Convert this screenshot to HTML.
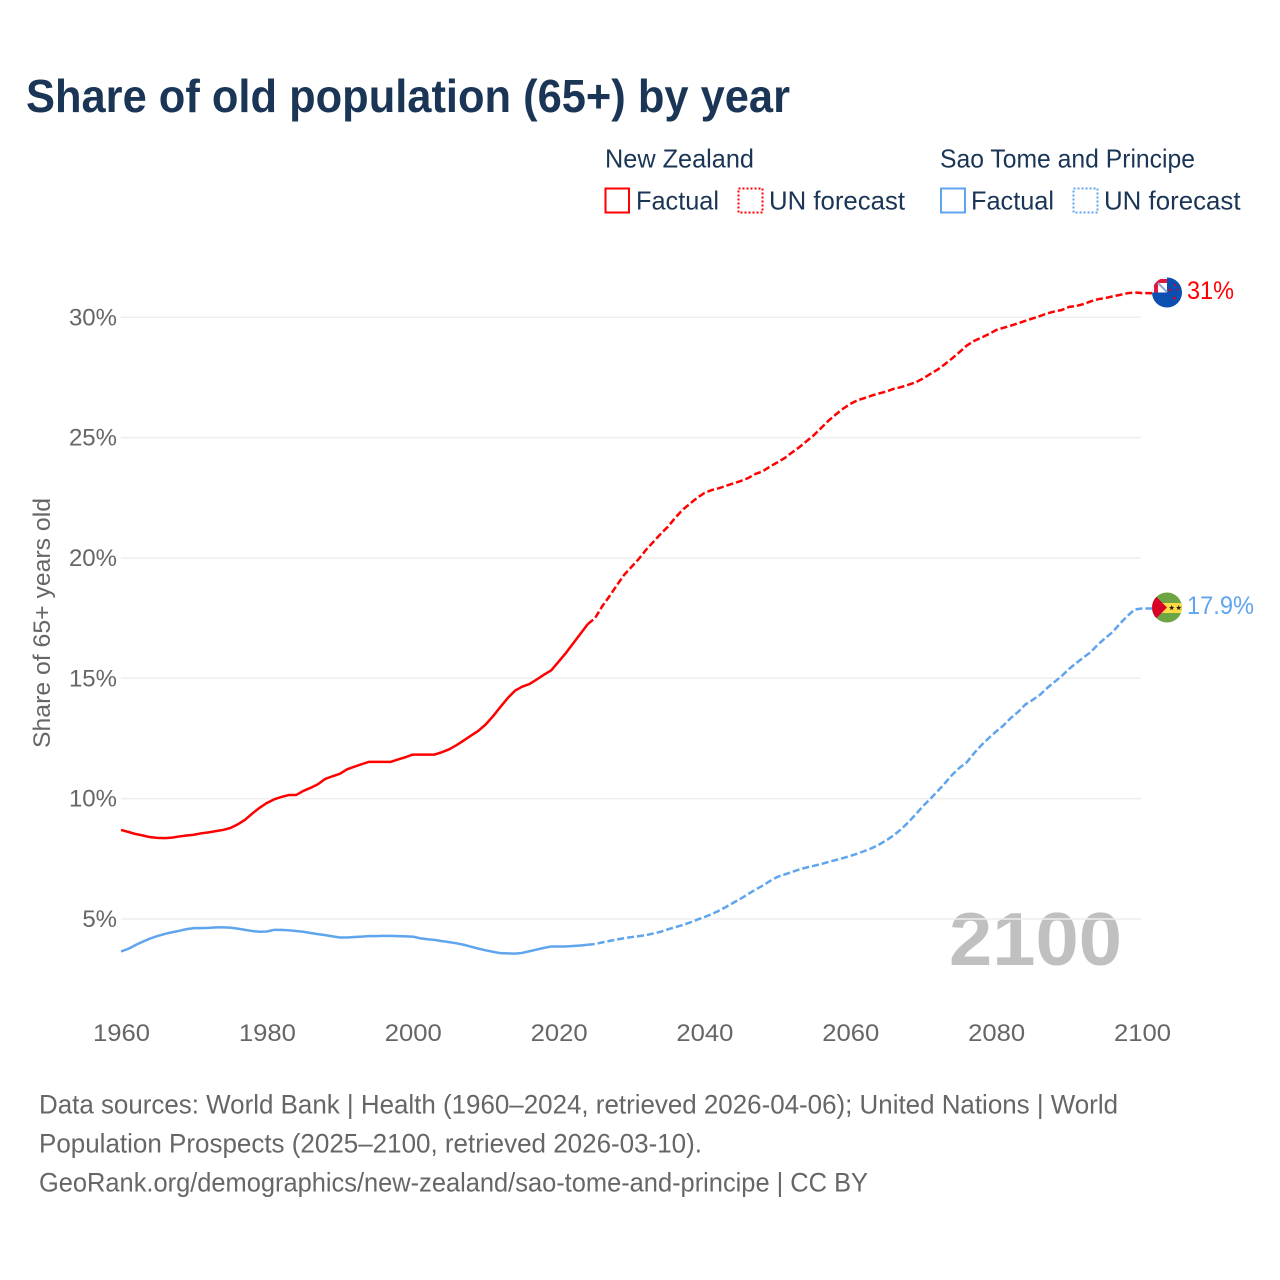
<!DOCTYPE html>
<html lang="en">
<head>
<meta charset="utf-8">
<title>Share of old population (65+) by year</title>
<style>
html,body{margin:0;padding:0;background:#fff;width:1280px;height:1280px;overflow:hidden}
svg{display:block}
text{font-family:"Liberation Sans",sans-serif}
</style>
</head>
<body>
<svg id="chart" xmlns="http://www.w3.org/2000/svg" width="1280" height="1280" viewBox="0 0 1280 1280">
  <text x="26" y="112" font-size="46" font-weight="700" fill="#1a3555" textLength="764" lengthAdjust="spacingAndGlyphs">Share of old population (65+) by year</text>

  <g font-size="26" fill="#1a3555">
    <text x="605" y="167.5" textLength="149" lengthAdjust="spacingAndGlyphs">New Zealand</text>
    <rect x="605.5" y="188.5" width="23.5" height="24" fill="none" stroke="#ff0000" stroke-width="2"/>
    <text x="636" y="209.5" textLength="83" lengthAdjust="spacingAndGlyphs">Factual</text>
    <rect x="738.5" y="188.5" width="24" height="24" fill="none" stroke="#ff0000" stroke-width="2" stroke-dasharray="2 2"/>
    <text x="769" y="209.5" textLength="136" lengthAdjust="spacingAndGlyphs">UN forecast</text>

    <text x="940" y="167.5" textLength="255" lengthAdjust="spacingAndGlyphs">Sao Tome and Principe</text>
    <rect x="941" y="188.5" width="24" height="24" fill="none" stroke="#5fa5ee" stroke-width="2"/>
    <text x="971" y="209.5" textLength="83" lengthAdjust="spacingAndGlyphs">Factual</text>
    <rect x="1073.5" y="188.5" width="24" height="24" fill="none" stroke="#5fa5ee" stroke-width="2" stroke-dasharray="2 2"/>
    <text x="1104" y="209.5" textLength="136.5" lengthAdjust="spacingAndGlyphs">UN forecast</text>
  </g>

  <text transform="translate(50,623) rotate(-90)" text-anchor="middle" font-size="24" fill="#666666" textLength="250" lengthAdjust="spacingAndGlyphs">Share of 65+ years old</text>

  <text x="949" y="965" font-size="75" font-weight="700" fill="#c0c0c0" textLength="173" lengthAdjust="spacingAndGlyphs">2100</text>

  <g id="grid"></g>
  <g id="yticks"></g>
  <g id="xticks"></g>
  <g id="series"></g>

  <defs>
    <clipPath id="nz-clip"><circle cx="1167" cy="292.5" r="15"/></clipPath>
    <clipPath id="st-clip"><circle cx="1167" cy="607.5" r="15"/></clipPath>
  </defs>

  <g id="flag-nz" clip-path="url(#nz-clip)">
    <rect x="1152" y="277" width="30" height="31" fill="#0b4fb0"/>
    <rect x="1152" y="277" width="15" height="15.5" fill="#ffffff"/>
    <path d="M1154 292.5 V279 H1167 V283 H1158 V292.5 Z" fill="#e0163c"/>
    <path d="M1158 283 L1167 292" stroke="#8fa6d6" stroke-width="2"/>
    <circle cx="1170" cy="290" r="1.3" fill="#d80027"/>
    <circle cx="1175" cy="285" r="1.1" fill="#d80027"/>
    <circle cx="1178" cy="289.5" r="1" fill="#d80027"/>
    <circle cx="1174.5" cy="298" r="1.4" fill="#d80027"/>
  </g>

  <g id="flag-st" clip-path="url(#st-clip)">
    <rect x="1152" y="592" width="30" height="31" fill="#6da544"/>
    <rect x="1152" y="603" width="30" height="10" fill="#ffda44"/>
    <path d="M1152 592.5 L1167 607.5 L1152 622.5 Z" fill="#d80027"/>
    <path d="M1171.7 605 l0.7 1.9 2 0.1 -1.6 1.2 0.6 1.9 -1.7 -1.1 -1.7 1.1 0.6 -1.9 -1.6 -1.2 2 -0.1 Z" fill="#222"/>
    <path d="M1178.7 605 l0.7 1.9 2 0.1 -1.6 1.2 0.6 1.9 -1.7 -1.1 -1.7 1.1 0.6 -1.9 -1.6 -1.2 2 -0.1 Z" fill="#222"/>
  </g>

  <text x="1187" y="299" font-size="25" fill="#ff0000" textLength="47" lengthAdjust="spacingAndGlyphs">31%</text>
  <text x="1187" y="614" font-size="25" fill="#5fa5ee" textLength="67" lengthAdjust="spacingAndGlyphs">17.9%</text>

  <g font-size="27" fill="#666666">
    <text x="39" y="1113.5" textLength="1079" lengthAdjust="spacingAndGlyphs">Data sources: World Bank | Health (1960–2024, retrieved 2026-04-06); United Nations | World</text>
    <text x="39" y="1152.5" textLength="663" lengthAdjust="spacingAndGlyphs">Population Prospects (2025–2100, retrieved 2026-03-10).</text>
    <text x="39" y="1191.5" textLength="829" lengthAdjust="spacingAndGlyphs">GeoRank.org/demographics/new-zealand/sao-tome-and-principe | CC BY</text>
  </g>
</svg>

<script>
const xTickYears = [1960, 1980, 2000, 2020, 2040, 2060, 2080, 2100];
const yTickValues = [5, 10, 15, 20, 25, 30];
const firstYear = 1960;
const lastFactualYear = 2024;

const nzFactual = [8.7,8.62,8.53,8.47,8.4,8.37,8.36,8.38,8.43,8.47,
  8.5,8.56,8.6,8.65,8.7,8.78,8.93,9.12,9.38,9.62,
  9.82,9.97,10.07,10.15,10.15,10.32,10.45,10.6,10.82,10.93,
  11.03,11.22,11.33,11.43,11.53,11.53,11.53,11.53,11.63,11.72,
  11.83,11.83,11.83,11.83,11.93,12.05,12.22,12.42,12.62,12.82,
  13.08,13.42,13.8,14.17,14.48,14.65,14.76,14.95,15.15,15.33,
  15.69,16.05,16.45,16.85,17.25];

const nzForecast = [17.5,18.0,18.42,18.87,19.3,19.63,19.96,20.34,20.67,21.0,
  21.3,21.67,22.0,22.25,22.5,22.7,22.82,22.9,23.0,23.1,
  23.2,23.32,23.49,23.6,23.8,23.97,24.15,24.38,24.6,24.85,
  25.1,25.4,25.7,25.96,26.2,26.4,26.55,26.65,26.75,26.84,
  26.92,27.03,27.1,27.2,27.3,27.46,27.65,27.83,28.06,28.3,
  28.56,28.83,29.02,29.16,29.3,29.47,29.56,29.65,29.75,29.85,
  29.95,30.05,30.16,30.24,30.3,30.43,30.47,30.55,30.66,30.75,
  30.8,30.87,30.93,31.0,31.03,31.0];

const stFactual = [3.65,3.76,3.92,4.06,4.19,4.29,4.38,4.45,4.51,4.58,
  4.62,4.62,4.63,4.65,4.65,4.64,4.6,4.55,4.5,4.47,
  4.48,4.55,4.55,4.53,4.5,4.47,4.42,4.37,4.33,4.28,
  4.23,4.23,4.25,4.27,4.29,4.29,4.3,4.3,4.29,4.28,
  4.27,4.2,4.16,4.13,4.08,4.04,3.99,3.93,3.85,3.77,
  3.7,3.64,3.58,3.57,3.56,3.59,3.66,3.73,3.8,3.86,
  3.86,3.86,3.88,3.9,3.93];

const stForecast = [3.96,4.03,4.09,4.15,4.2,4.25,4.29,4.33,4.4,4.47,
  4.57,4.66,4.75,4.85,4.97,5.08,5.2,5.35,5.51,5.68,
  5.85,6.04,6.22,6.39,6.58,6.75,6.85,6.95,7.06,7.14,
  7.21,7.28,7.37,7.45,7.53,7.62,7.72,7.83,7.95,8.1,
  8.28,8.49,8.74,9.03,9.36,9.7,10.0,10.32,10.65,11.0,
  11.29,11.52,11.9,12.23,12.52,12.79,13.04,13.35,13.6,13.91,
  14.1,14.31,14.6,14.85,15.1,15.39,15.64,15.87,16.1,16.41,
  16.68,16.93,17.28,17.59,17.86,17.9];

const NS = 'http://www.w3.org/2000/svg';
const xScale = function (year) { return 121 + (year - 1960) * 7.293; };
const yScale = function (value) { return 919 - (value - 5) * 24.07; };

const gridGroup = document.getElementById('grid');
const yTickGroup = document.getElementById('yticks');
const xTickGroup = document.getElementById('xticks');
const seriesGroup = document.getElementById('series');

yTickValues.forEach(function (v) {
  const line = document.createElementNS(NS, 'line');
  
  
  line.setAttribute('x1', xScale(1960));
  line.setAttribute('x2', xScale(2100) - 1);
  line.setAttribute('y1', yScale(v));
  line.setAttribute('y2', yScale(v));
  line.setAttribute('stroke', '#eeeeee');
  line.setAttribute('stroke-width', '1.5');
  gridGroup.appendChild(line);

  const label = document.createElementNS(NS, 'text');
  
  
  label.setAttribute('x', 117);
  label.setAttribute('y', yScale(v) + 8);
  label.setAttribute('text-anchor', 'end');
  label.setAttribute('font-size', '24');
  label.setAttribute('fill', '#666666');
  label.textContent = v + '%';
  yTickGroup.appendChild(label);
});

xTickYears.forEach(function (year) {
  const label = document.createElementNS(NS, 'text');
  
  
  label.setAttribute('x', xScale(year) + 0.5);
  label.setAttribute('y', 1041);
  label.setAttribute('text-anchor', 'middle');
  label.setAttribute('font-size', '24');
  label.setAttribute('fill', '#666666');
  label.setAttribute('textLength', '57');
  label.setAttribute('lengthAdjust', 'spacingAndGlyphs');
  label.textContent = year;
  xTickGroup.appendChild(label);
});

function pathFrom(values, startYear) {
  return values.map(function (v, i) {
    return (i ? 'L' : 'M') + xScale(startYear + i).toFixed(2) + ' ' + yScale(v).toFixed(2);
  }).join(' ');
}

function addSeries(name, color, factual, forecast) {
  const solid = document.createElementNS(NS, 'path');
  
  
  solid.setAttribute('d', pathFrom(factual, firstYear));
  solid.setAttribute('fill', 'none');
  solid.setAttribute('stroke', color);
  solid.setAttribute('stroke-width', '2.5');
  solid.setAttribute('stroke-linejoin', 'round');
  seriesGroup.appendChild(solid);

  const last = forecast[forecast.length - 1];
  const joined = [factual[factual.length - 1]].concat(forecast);
  const dashed = document.createElementNS(NS, 'path');
  
  
  dashed.setAttribute('d', pathFrom(joined, lastFactualYear) + ' L' + (xScale(2100) + 10) + ' ' + yScale(last).toFixed(2));
  dashed.setAttribute('fill', 'none');
  dashed.setAttribute('stroke', color);
  dashed.setAttribute('stroke-width', '2.5');
  dashed.setAttribute('stroke-dasharray', '7 3');
  seriesGroup.appendChild(dashed);
}

addSeries('new-zealand', '#ff0000', nzFactual, nzForecast);
addSeries('sao-tome', '#5fa5ee', stFactual, stForecast);
</script>
</body>
</html>
